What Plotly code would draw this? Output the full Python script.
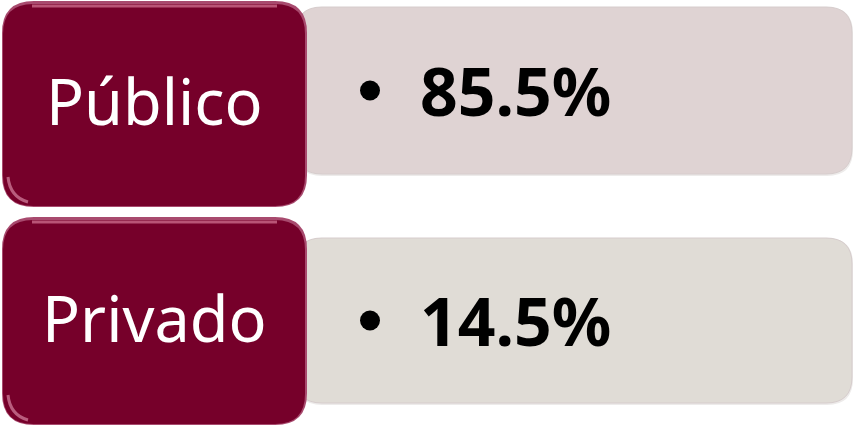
import plotly.graph_objects as go

# Data
categories = ["Público", "Privado"]
shares = [85.5, 14.5]
value_labels = [f"{v:.1f}%" for v in shares]

# Styling / layout constants
W, H = 856, 427
LEFT_COLOR = "#76002A"
RIGHT_COLORS = ["#DFD3D3", "#E0DCD6"]
left_boxes = [(2, 1, 307, 207), (2, 217, 307, 425)]
right_boxes = [(296, 7, 852, 174), (296, 238, 852, 403)]


def rrect(x0, y0, x1, y1, r):
    return (f"M{x0+r},{y0} L{x1-r},{y0} Q{x1},{y0} {x1},{y0+r} "
            f"L{x1},{y1-r} Q{x1},{y1} {x1-r},{y1} L{x0+r},{y1} "
            f"Q{x0},{y1} {x0},{y1-r} L{x0},{y0+r} Q{x0},{y0} {x0+r},{y0} Z")


fig = go.Figure()
fig.add_trace(go.Scatter(x=[0, W], y=[0, H], mode="markers",
                         marker=dict(opacity=0), hoverinfo="skip", showlegend=False))

shapes = []
annotations = []
for i, (cat, lab) in enumerate(zip(categories, value_labels)):
    rx0, ry0, rx1, ry1 = right_boxes[i]
    shapes.append(dict(type="path", path=rrect(rx0, ry0, rx1 + 1, ry1 + 2, 26),
                       fillcolor="#EDEBEA", line=dict(width=0), layer="below"))
    shapes.append(dict(type="path", path=rrect(rx0, ry0, rx1, ry1, 26),
                       fillcolor=RIGHT_COLORS[i], line=dict(color="#D6CCCC", width=1), layer="below"))
    lx0, ly0, lx1, ly1 = left_boxes[i]
    shapes.append(dict(type="path", path=rrect(lx0, ly0, lx1, ly1, 32),
                       fillcolor="#A84A6E", line=dict(width=0), layer="below"))
    shapes.append(dict(type="path", path=rrect(lx0 + 1, ly0 + 3, lx1 - 2, ly1 - 1, 30),
                       fillcolor=LEFT_COLOR, line=dict(width=0), layer="below"))
    shapes.append(dict(type="path",
                       path=f"M{lx0+30},{ly0+5} L{lx1-30},{ly0+5}",
                       line=dict(color="rgba(230,140,170,0.6)", width=3), layer="below"))
    shapes.append(dict(type="path",
                       path=f"M{lx0+6},{ly1-30} Q{lx0+8},{ly1-10} {lx0+26},{ly1-5}",
                       line=dict(color="rgba(240,170,195,0.55)", width=3), layer="below"))

    cy_label = (ly0 + ly1) / 2 - 4
    cy_val = (ry0 + ry1) / 2 - 1
    annotations.append(dict(x=(lx0 + lx1) / 2, y=cy_label, text=cat, showarrow=False,
                            xref="x", yref="y", xanchor="center", yanchor="middle",
                            font=dict(family="Noto Sans", size=63, color="white")))
    shapes.append(dict(type="circle", x0=360, x1=380, y0=cy_val - 9, y1=cy_val + 11,
                       fillcolor="black", line=dict(width=0)))
    annotations.append(dict(x=418, y=cy_val, text=f"<b>{lab}</b>", showarrow=False,
                            xref="x", yref="y", xanchor="left", yanchor="middle",
                            font=dict(family="Noto Sans", size=66, color="black")))

fig.update_layout(
    width=W, height=H, margin=dict(l=0, r=0, t=0, b=0),
    paper_bgcolor="white", plot_bgcolor="white",
    xaxis=dict(range=[0, W], visible=False, fixedrange=True),
    yaxis=dict(range=[H, 0], visible=False, fixedrange=True),
    shapes=shapes, annotations=annotations, showlegend=False,
)

fig.write_html("out.html", config={"displayModeBar": False},
               post_script="document.body.style.margin='0px';")
